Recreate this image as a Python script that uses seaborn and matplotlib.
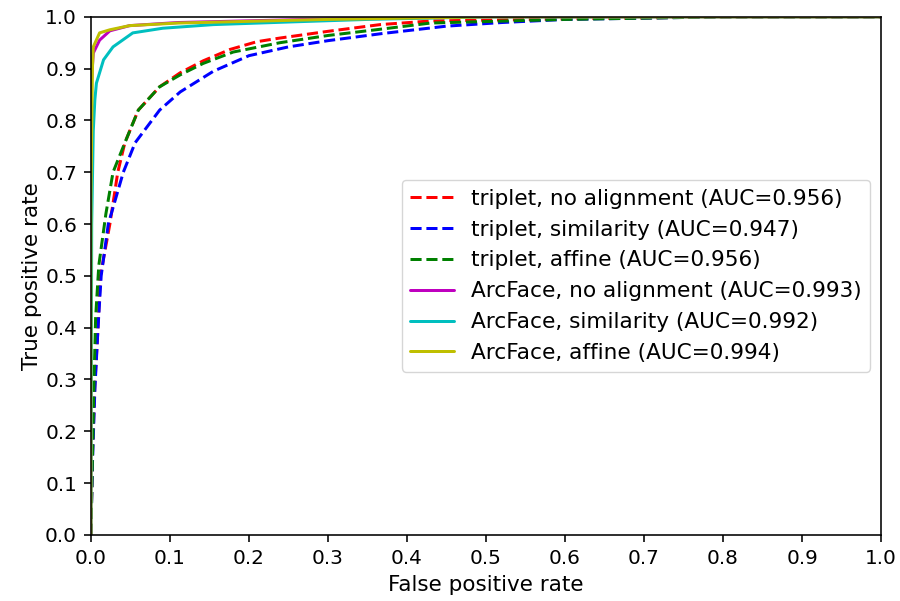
import matplotlib
matplotlib.use("Agg")
import matplotlib.pyplot as plt
import seaborn as sns

sns.set_style("ticks")
plt.rcParams['font.family'] = ['DejaVu Sans']
plt.rcParams.update({
    'text.color': 'black', 'axes.labelcolor': 'black',
    'xtick.color': 'black', 'ytick.color': 'black',
    'axes.edgecolor': 'black',
})

# triplet, no alignment
fpr_t_none = [0.0, 0.002, 0.005, 0.009, 0.012, 0.024, 0.034, 0.043, 0.060, 0.087, 0.113, 0.142, 0.176, 0.21, 0.239, 0.30, 0.366, 0.43, 0.6, 0.8, 1.0]
tpr_t_none = [0.0, 0.16, 0.29, 0.40, 0.50, 0.60, 0.70, 0.757, 0.82, 0.865, 0.892, 0.915, 0.937, 0.952, 0.959, 0.972, 0.985, 0.992, 0.996, 1.0, 1.0]
# triplet, similarity
fpr_t_sim = [0.0, 0.002, 0.005, 0.009, 0.013, 0.022, 0.041, 0.056, 0.087, 0.113, 0.155, 0.20, 0.25, 0.30, 0.37, 0.45, 0.52, 0.6, 0.8, 1.0]
tpr_t_sim = [0.0, 0.14, 0.28, 0.40, 0.50, 0.60, 0.70, 0.757, 0.82, 0.855, 0.895, 0.925, 0.942, 0.954, 0.968, 0.982, 0.989, 0.995, 1.0, 1.0]
# triplet, affine
fpr_t_aff = [0.0, 0.002, 0.004, 0.006, 0.010, 0.019, 0.028, 0.043, 0.060, 0.087, 0.113, 0.142, 0.18, 0.239, 0.30, 0.366, 0.43, 0.6, 0.8, 1.0]
tpr_t_aff = [0.0, 0.15, 0.30, 0.42, 0.52, 0.62, 0.70, 0.757, 0.82, 0.865, 0.888, 0.91, 0.932, 0.95, 0.964, 0.976, 0.988, 0.995, 1.0, 1.0]
# ArcFace, no alignment
fpr_a_none = [0.0, 0.0, 0.003, 0.011, 0.024, 0.049, 0.11, 0.3, 0.5, 1.0]
tpr_a_none = [0.0, 0.86, 0.93, 0.955, 0.973, 0.983, 0.989, 0.996, 1.0, 1.0]
# ArcFace, similarity
fpr_a_sim = [0.0, 0.001, 0.003, 0.005, 0.007, 0.016, 0.028, 0.053, 0.091, 0.155, 0.25, 0.35, 0.5, 1.0]
tpr_a_sim = [0.0, 0.60, 0.78, 0.84, 0.872, 0.917, 0.942, 0.969, 0.978, 0.985, 0.99, 0.995, 1.0, 1.0]
# ArcFace, affine
fpr_a_aff = [0.0, 0.0, 0.002, 0.003, 0.011, 0.024, 0.049, 0.11, 0.3, 0.5, 1.0]
tpr_a_aff = [0.0, 0.65, 0.904, 0.942, 0.969, 0.975, 0.983, 0.988, 0.995, 1.0, 1.0]

labels = [
    "triplet, no alignment (AUC=0.956)",
    "triplet, similarity (AUC=0.947)",
    "triplet, affine (AUC=0.956)",
    "ArcFace, no alignment (AUC=0.993)",
    "ArcFace, similarity (AUC=0.992)",
    "ArcFace, affine (AUC=0.994)",
]
series = [
    (fpr_t_none, tpr_t_none, '#ff0000', '--'),
    (fpr_t_sim, tpr_t_sim, '#0000ff', '--'),
    (fpr_t_aff, tpr_t_aff, '#008000', '--'),
    (fpr_a_none, tpr_a_none, '#bf00bf', '-'),
    (fpr_a_sim, tpr_a_sim, '#00bfbf', '-'),
    (fpr_a_aff, tpr_a_aff, '#bfbf00', '-'),
]

fig, ax = plt.subplots(figsize=(9, 6.01), dpi=100)
fig.subplots_adjust(left=0.101, right=0.979, top=0.972, bottom=0.11)

for (x, y, c, ls), lab in zip(series, labels):
    sns.lineplot(x=x, y=y, ax=ax, color=c, linestyle=ls, linewidth=2.16,
                 label=lab, sort=False, estimator=None)

ax.set_xlim(0, 1)
ax.set_ylim(0, 1)
ticks = [i / 10 for i in range(11)]
ax.set_xticks(ticks)
ax.set_yticks(ticks)
ax.set_xticklabels([f"{t:.1f}" for t in ticks], fontsize=14.4)
ax.set_yticklabels([f"{t:.1f}" for t in ticks], fontsize=14.4)
ax.set_xlabel("False positive rate", fontsize=15.5, labelpad=5)
ax.set_ylabel("True positive rate", fontsize=15.5, labelpad=2.5)
for s in ax.spines.values():
    s.set_visible(True)
    s.set_linewidth(1.15)
    s.set_color('black')
ax.tick_params(direction='out', length=5, width=1.15, colors='black', pad=5)
leg = ax.legend(loc='center right', fontsize=15.6, frameon=True, fancybox=True,
                edgecolor='#cccccc', framealpha=0.8, handlelength=2.0,
                borderaxespad=0.5)
fig.savefig("out.png", dpi=100)
